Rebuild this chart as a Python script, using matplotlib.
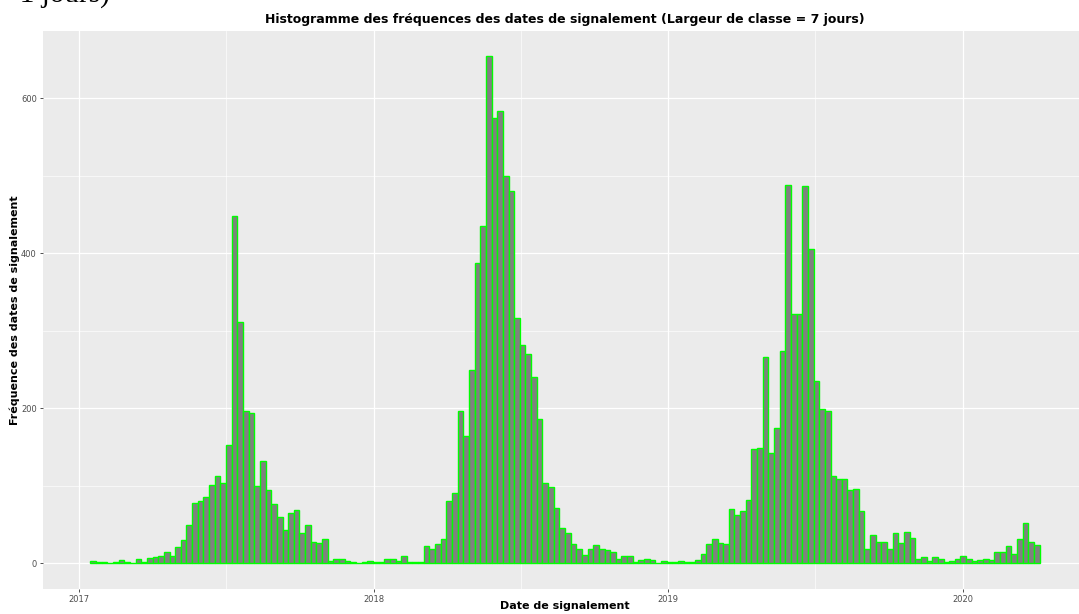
import matplotlib
matplotlib.use('Agg')
import matplotlib.pyplot as plt
import matplotlib.dates as mdates
from matplotlib.ticker import MultipleLocator
import numpy as np

# weekly counts, first bin starts 2017-01-15
bin_start = '2017-01-15'
bin_days = 7
counts = [
    3, 1, 1, 0, 1, 4, 2, 0, 5, 2, 7, 8, 10, 14, 9, 21, 30, 50, 78, 80,
    85, 101, 113, 104, 152, 448, 311, 196, 194, 100, 132, 95, 77, 60, 43, 65, 69, 39, 49, 28,
    26, 31, 3, 5, 5, 3, 1, 0, 1, 3, 2, 1, 5, 5, 3, 9, 1, 2, 2, 22,
    18, 25, 31, 80, 90, 197, 164, 249, 387, 435, 654, 575, 584, 500, 480, 317, 282, 270, 240, 186,
    103, 98, 71, 46, 39, 25, 19, 11, 18, 23, 18, 17, 14, 5, 10, 9, 1, 4, 6, 4,
    0, 3, 2, 2, 3, 1, 2, 4, 12, 25, 31, 26, 25, 70, 62, 67, 82, 148, 149, 266,
    142, 175, 274, 488, 321, 321, 487, 405, 235, 199, 197, 113, 109, 109, 94, 96, 68, 19, 36, 28,
    28, 19, 39, 26, 40, 32, 6, 8, 3, 8, 6, 1, 3, 6, 10, 5, 3, 4, 6, 4,
    14, 15, 22, 12, 31, 52, 27, 24,
]
year_ticks = ['2017-01-01', '2018-01-01', '2019-01-01', '2020-01-01']
year_labels = ['2017', '2018', '2019', '2020']
minor_ticks = ['2017-07-02', '2018-07-02', '2019-07-02']

title = "Histogramme des fréquences des dates de signalement (Largeur de classe = 7 jours)"
xlabel = "Date de signalement"
ylabel = "Fréquence des dates de signalement"

start = mdates.date2num(np.datetime64(bin_start))
lefts = start + bin_days * np.arange(len(counts))

W, H = 1079, 614
fig = plt.figure(figsize=(W / 100, H / 100), dpi=100)
ax = fig.add_axes([43 / W, 1 - 588.6 / H, 1044 / W, 557.6 / H])
ax.set_facecolor('#EBEBEB')
for s in ax.spines.values():
    s.set_visible(False)

ax.bar(lefts, counts, width=bin_days, align='edge', color='#808080',
       edgecolor='#00FF00', linewidth=1.0, zorder=3)

# ggplot style expansion (5%)
x0, x1 = lefts[0], lefts[-1] + bin_days
dx = (x1 - x0) * 0.05
ax.set_xlim(x0 - dx, x1 + dx)
ymax = max(counts)
ax.set_ylim(-ymax * 0.05, ymax * 1.05)

ax.set_xticks([mdates.date2num(np.datetime64(d)) for d in year_ticks])
ax.set_xticklabels(year_labels)
ax.set_xticks([mdates.date2num(np.datetime64(d)) for d in minor_ticks], minor=True)
ax.yaxis.set_major_locator(MultipleLocator(200))
ax.yaxis.set_minor_locator(MultipleLocator(100))

ax.grid(which='major', color='white', linewidth=0.9, zorder=0)
ax.grid(which='minor', color='white', linewidth=0.45, zorder=0)
ax.set_axisbelow(True)
ax.tick_params(which='major', length=2.5, width=0.6, color='#333333',
               labelsize=6, labelcolor='#4D4D4D', pad=2)
ax.tick_params(which='minor', length=0)

ax.set_title(title, fontsize=9, fontweight='bold', pad=6)
ax.set_xlabel(xlabel, fontsize=8, fontweight='bold', va='top')
ax.xaxis.set_label_coords(0.5, -0.022)
ax.set_ylabel(ylabel, fontsize=8, fontweight='bold', va='center')
ax.yaxis.set_label_coords(-0.027, 0.5)

# leftover caption from the page above, mostly cut off by the top edge (as in the source image)
fig.text(110 / W, 1 - 1.5 / H, "(Largeur de classe = 1 jours)", ha='right',
         va='baseline', fontsize=21, family='Liberation Serif')

fig.savefig('out.png', dpi=100)
